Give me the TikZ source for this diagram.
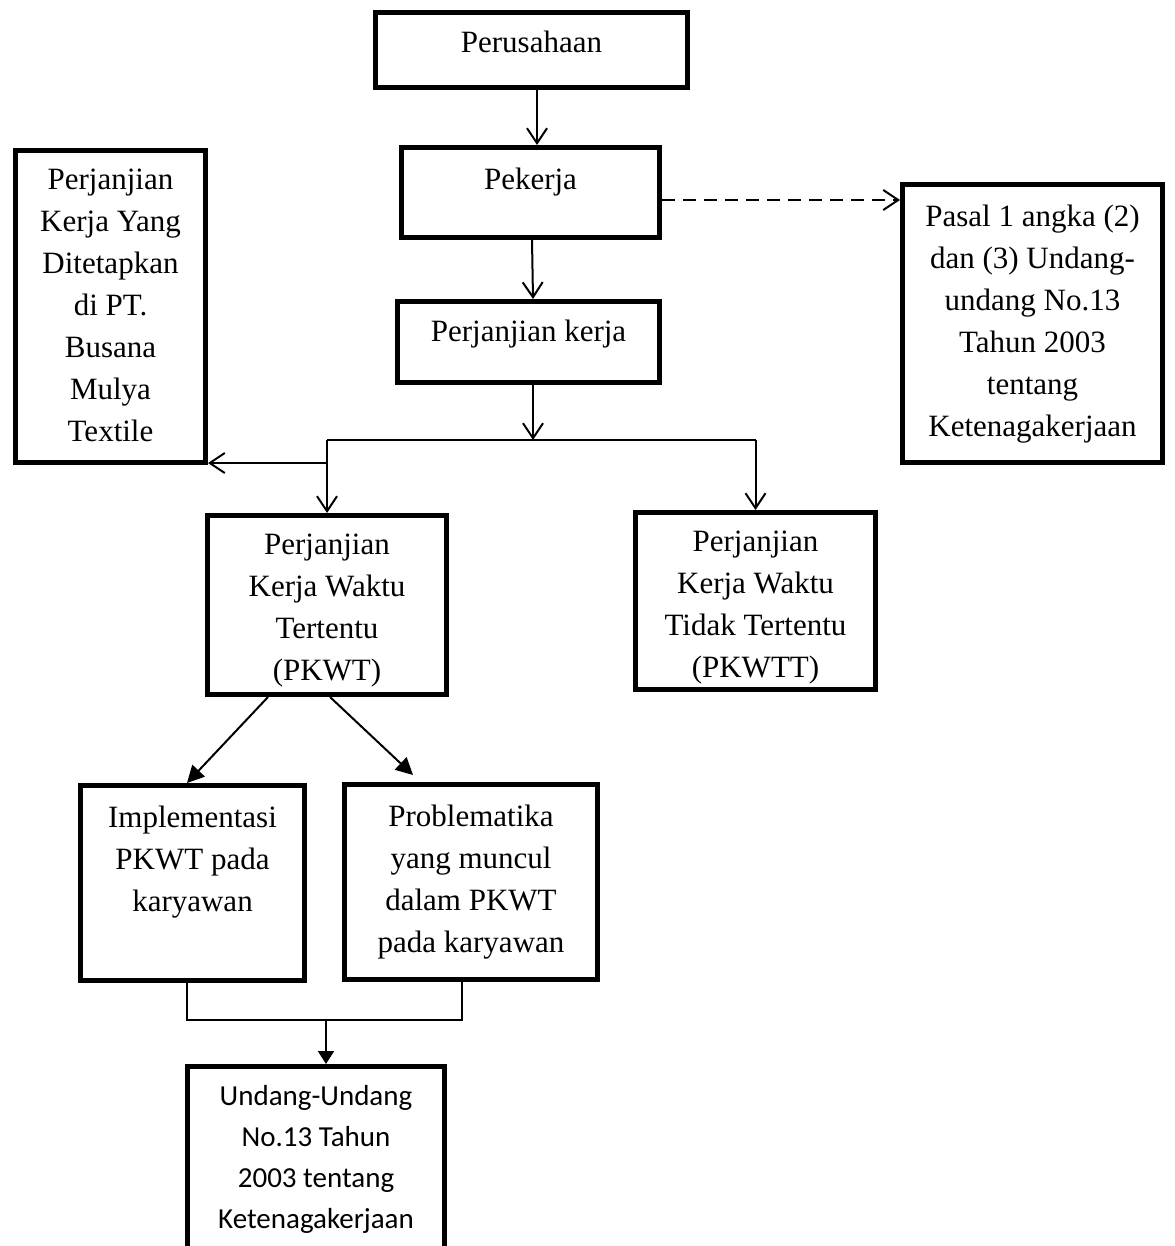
\documentclass[tikz,border=0pt]{standalone}
\usepackage{fontspec}
\setmainfont{Liberation Serif}
\newfontfamily\calibrifont{Carlito}
\usetikzlibrary{arrows.meta,positioning}

\tikzset{
  box/.style={draw, line width=5pt, inner sep=0pt},
  txt/.style={anchor=north, yshift=-21pt, inner sep=0pt, align=center,
    font=\fontsize{31}{42}\selectfont},
  arr/.style={-{Straight Barb[length=15pt,width=20pt]}, line width=2pt},
  farr/.style={-{Triangle[length=17pt,width=17pt]}, line width=2pt},
  lnk/.style={line width=1.5pt},
}

\begin{document}
\begin{tikzpicture}[x=1pt,y=-1pt]
    \useasboundingbox (0,0) rectangle (1174,1246);

    % top chain
    \node[box, minimum width=312pt, minimum height=75pt,
      label={[txt]north:Perusahaan}] (per) at (531.5,50) {};
    \node[box, minimum width=258pt, minimum height=90pt,
      label={[txt, yshift=-2pt]north:Pekerja}] (pek) at (530.5,192.5) {};
    \node[box, minimum width=262pt, minimum height=81pt,
      label={[txt]north:Perjanjian kerja}] (pk) at (528.5,342) {};

    % side boxes
    \node[box, minimum width=260pt, minimum height=278pt,
      label={[txt, yshift=-2pt]north:{Pasal 1 angka (2)\\dan (3) Undang-\\undang No.13\\Tahun 2003\\tentang\\Ketenagakerjaan}}] (pasal) at (1032.5,323.5) {};
    \node[box, minimum width=190pt, minimum height=312pt,
      label={[txt]north:{Perjanjian\\Kerja Yang\\Ditetapkan\\di PT.\\Busana\\Mulya\\Textile}}] (ptbm) at (110.5,306.5) {};

    % PKWT and PKWTT
    \node[box, minimum width=239pt, minimum height=179pt,
      label={[txt]north:{Perjanjian\\Kerja Waktu\\Tertentu\\(PKWT)}}] (pkwt) at (327,605) {};
    \node[box, minimum width=240pt, minimum height=177pt,
      label={[txt]north:{Perjanjian\\Kerja Waktu\\Tidak Tertentu\\(PKWTT)}}] (pkwtt) at (755.5,601) {};

    % lower row
    \node[box, minimum width=224pt, minimum height=195pt,
      label={[txt, yshift=-2pt]north:{Implementasi\\PKWT pada\\karyawan}}] (impl) at (192.5,883) {};
    \node[box, minimum width=253pt, minimum height=195pt,
      label={[txt, yshift=-2pt]north:{Problematika\\yang muncul\\dalam PKWT\\pada karyawan}}] (prob) at (471,882) {};
    \node[box, minimum width=257pt, minimum height=233pt,
      label={[txt, font=\calibrifont\fontsize{29}{41}\selectfont]north:{Undang-Undang\\No.13 Tahun\\2003 tentang\\Ketenagakerjaan}}] (uu) at (316,1183) {};

    % connectors
    \coordinate (jn) at (533,440);
    \coordinate (br) at (327,463);
    \coordinate (dash) at ([yshift=-7.5pt]pek.east);
    \coordinate (jn2) at (326,1020);

    \draw[arr] ([xshift=5.5pt]per.south) -- ([xshift=6.5pt]pek.north);
    \draw[arr] ([xshift=1.5pt]pek.south) -- ([xshift=4.5pt]pk.north);
    \draw[arr, dash pattern=on 13pt off 8pt] (dash) -- (dash -| pasal.west);
    \draw[arr] ([xshift=4.5pt]pk.south) -- (jn);
    \draw[lnk] (pkwt.north |- jn) -- (pkwtt.north |- jn);
    \draw[arr] (pkwt.north |- jn) -- (pkwt.north);
    \draw[arr] (pkwtt.north |- jn) -- (pkwtt.north);
    \draw[arr] (br) -- (br -| ptbm.east);

    \draw[farr] ([xshift=-59pt]pkwt.south) -- ([xshift=-5.5pt]impl.north);
    \draw[farr] ([xshift=3pt]pkwt.south) -- ([xshift=-58pt,yshift=7pt]prob.north);

    \draw[lnk] ([xshift=-5.5pt]impl.south) |- (jn2) -| ([xshift=-9pt]prob.south);
    \draw[-{Triangle[length=13pt,width=16pt]}, line width=2pt] (jn2) -- ([xshift=10pt]uu.north);
\end{tikzpicture}
\end{document}
